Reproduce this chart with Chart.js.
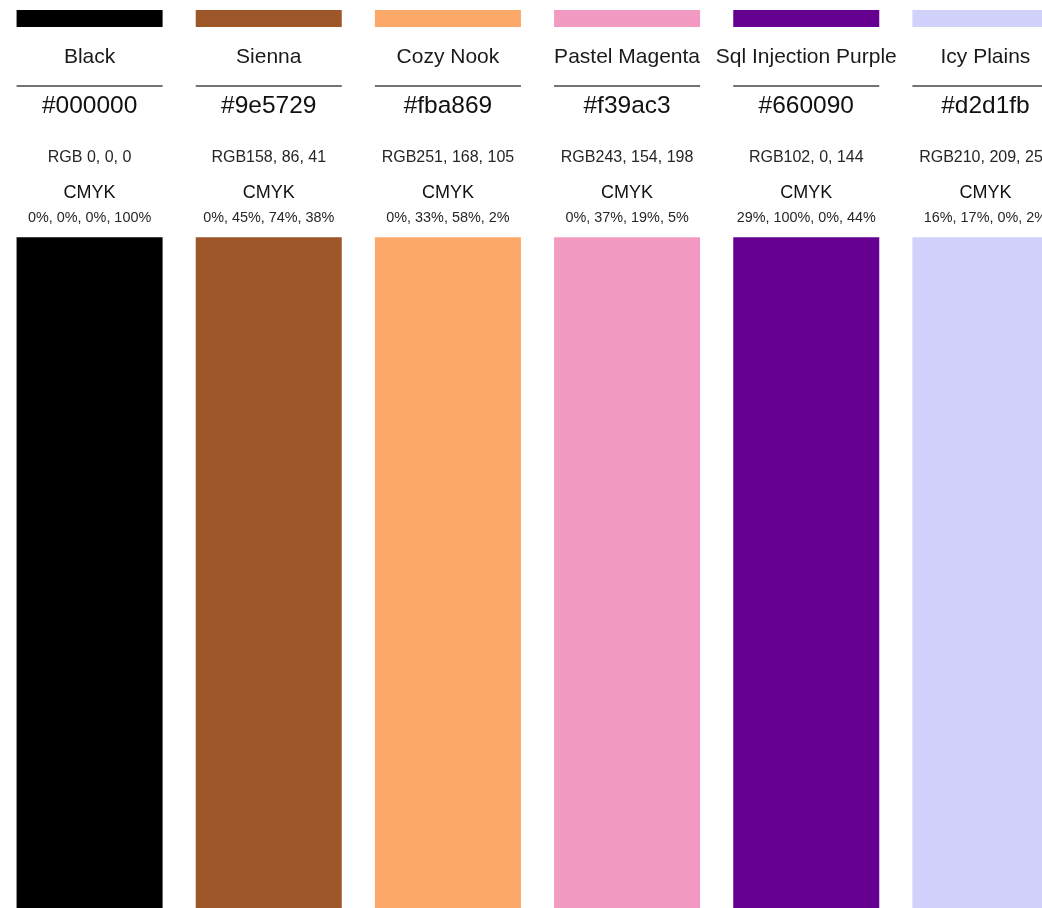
<!DOCTYPE html>
<html>
<head>
<meta charset="utf-8">
<script src="https://cdn.jsdelivr.net/npm/chart.js@4/dist/chart.umd.min.js"></script>
<style>
  html, body { margin: 0; padding: 0; background: #ffffff; overflow: hidden; width: 1042px; height: 908px; }
  #wrap { position: absolute; left: 0; top: 0; width: 1075px; height: 908px; }
</style>
</head>
<body>
<div id="wrap"><canvas id="c"></canvas></div>
<script>
// ---- data ----
const colorNames = ['Black', 'Sienna', 'Cozy Nook', 'Pastel Magenta', 'Sql Injection Purple', 'Icy Plains'];
const hexCodes = ['#000000', '#9e5729', '#fba869', '#f39ac3', '#660090', '#d2d1fb'];
const rgbLabels = ['RGB 0, 0, 0', 'RGB158, 86, 41', 'RGB251, 168, 105', 'RGB243, 154, 198', 'RGB102, 0, 144', 'RGB210, 209, 251'];
const cmykLabels = ['0%, 0%, 0%, 100%', '0%, 45%, 74%, 38%', '0%, 33%, 58%, 2%', '0%, 37%, 19%, 5%', '29%, 100%, 0%, 44%', '16%, 17%, 0%, 2%'];
const swatchTop = [74.7, 74.7, 74.7, 74.7, 74.7, 74.7];
const stripLow = [98.1, 98.1, 98.1, 98.1, 98.1, 98.1];
const stripHigh = [100, 100, 100, 100, 100, 100];

const FONT = '"Liberation Sans", Arial, Helvetica, sans-serif';

const labelPlugin = {
  id: 'paletteLabels',
  afterDatasetsDraw(chart) {
    const ctx = chart.ctx;
    const meta = chart.getDatasetMeta(0);
    const xs = chart.scales.x;
    ctx.save();
    colorNames.forEach((name, i) => {
      const x = xs.getPixelForValue(i);
      const w = meta.data[i].width;
      ctx.textAlign = 'center';
      ctx.textBaseline = 'alphabetic';
      ctx.fillStyle = '#1a1a1a';
      ctx.font = '21px ' + FONT;
      ctx.fillText(name, x, 63);
      ctx.strokeStyle = '#444444';
      ctx.lineWidth = 1.6;
      ctx.beginPath();
      ctx.moveTo(x - w / 2, 86);
      ctx.lineTo(x + w / 2, 86);
      ctx.stroke();
      ctx.font = '24.5px ' + FONT;
      ctx.fillStyle = '#111111';
      ctx.fillText(hexCodes[i], x, 113);
      ctx.font = '16px ' + FONT;
      ctx.fillStyle = '#262626';
      ctx.fillText(rgbLabels[i], x, 162);
      ctx.font = '18px ' + FONT;
      ctx.fillStyle = '#111111';
      ctx.fillText('CMYK', x, 198);
      ctx.font = '14.4px ' + FONT;
      ctx.fillStyle = '#262626';
      ctx.fillText(cmykLabels[i], x, 222);
    });
    ctx.restore();
  }
};

new Chart(document.getElementById('c'), {
  type: 'bar',
  data: {
    labels: colorNames,
    datasets: [
      {
        label: 'Swatch',
        data: swatchTop.map(v => [0, v]),
        backgroundColor: hexCodes,
        borderWidth: 0,
        grouped: false,
        barPercentage: 0.815,
        categoryPercentage: 1
      },
      {
        label: 'Strip',
        data: stripLow.map((v, i) => [v, stripHigh[i]]),
        backgroundColor: hexCodes,
        borderWidth: 0,
        grouped: false,
        barPercentage: 0.815,
        categoryPercentage: 1
      }
    ]
  },
  options: {
    responsive: true,
    maintainAspectRatio: false,
    animation: false,
    layout: { padding: { top: 10, bottom: 0, left: 0, right: 0 } },
    plugins: { legend: { display: false }, tooltip: { enabled: false } },
    scales: {
      x: { display: false, offset: true },
      y: { display: false, min: 0, max: 100 }
    }
  },
  plugins: [labelPlugin]
});
</script>
</body>
</html>
